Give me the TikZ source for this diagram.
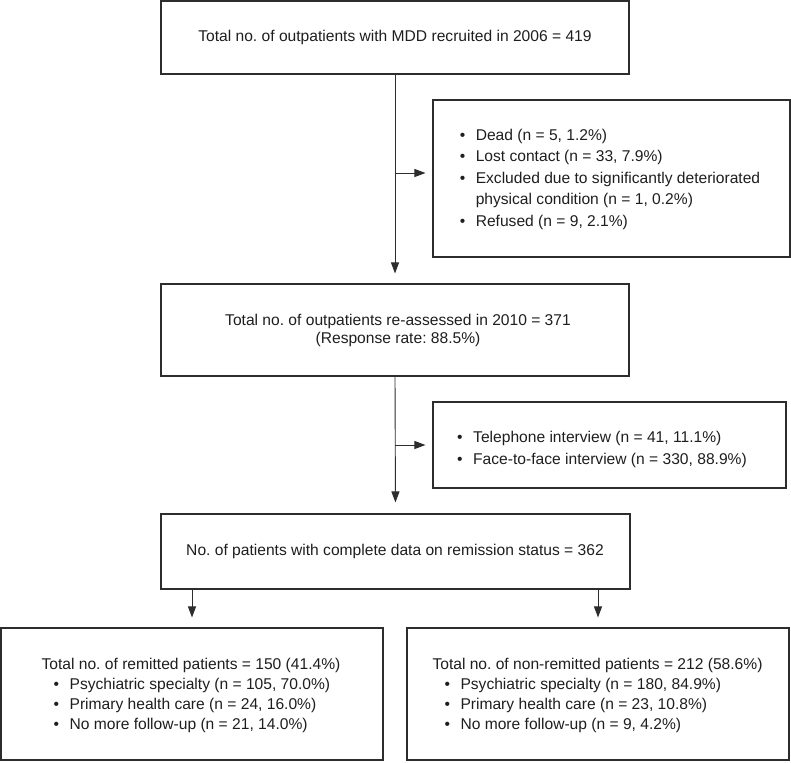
\documentclass[tikz,border=0pt]{standalone}
\usepackage{fontspec}
\setmainfont{Liberation Sans}
\usetikzlibrary{arrows.meta}
\definecolor{ink}{RGB}{30,30,30}
\definecolor{edge}{RGB}{45,45,45}
\newcommand{\bul}{\makebox[16pt][l]{\textbullet}}
\frenchspacing
\begin{document}
\begin{tikzpicture}[x=1pt,y=-1pt,
  box/.style={draw=edge, line width=1.1pt, inner sep=0pt},
  txt/.style={text=ink, inner sep=0pt, font=\fontsize{15.6}{#1}\selectfont, align=left},
  txt/.default={20},
  arr/.style={draw=edge, line width=0.9pt, -{Triangle[length=11pt,width=8pt]}}]
\useasboundingbox (0,0) rectangle (791,762);
% boxes
\node[box, minimum width=468pt, minimum height=73pt] (b1) at (395,37.5) {};
\node[box, minimum width=468pt, minimum height=92pt] (b2) at (395,330) {};
\node[box, minimum width=357pt, minimum height=157pt] (s1) at (611.5,178.5) {};
\node[box, minimum width=353pt, minimum height=86pt] (s2) at (609.5,445) {};
\node[box, minimum width=469pt, minimum height=75pt] (b3) at (395.5,551.5) {};
\node[box, minimum width=382pt, minimum height=132pt] (bl) at (192,694) {};
\node[box, minimum width=382pt, minimum height=132pt] (br) at (598,694) {};
% texts
\node[txt] (t1) at (395,37) {Total no. of outpatients with MDD recruited in 2006 = 419};
\node[txt={18}, align=center] (t2) at (398,330) {Total no. of outpatients re-assessed in 2010 = 371\\(Response rate: 88.5\%)};
\node[txt={21.5}] (ts1) at (610,179) {\begin{tabular}{@{}l@{}}
\bul Dead (n = 5, 1.2\%)\\
\bul Lost contact (n = 33, 7.9\%)\\
\bul Excluded due to significantly deteriorated\\
\hspace*{16pt}physical condition (n = 1, 0.2\%)\\
\bul Refused (n = 9, 2.1\%)
\end{tabular}};
\node[txt={22.5}] (ts2) at (602,449) {\begin{tabular}{@{}l@{}}
\bul Telephone interview (n = 41, 11.1\%)\\
\bul Face-to-face interview (n = 330, 88.9\%)
\end{tabular}};
\node[txt] (t3) at (395,551) {No. of patients with complete data on remission status = 362};
\node[txt] (tbl) at (191,695) {\begin{tabular}{@{}l@{}}
Total no. of remitted patients = 150 (41.4\%)\\
\hspace*{12pt}\bul Psychiatric specialty (n = 105, 70.0\%)\\
\hspace*{12pt}\bul Primary health care (n = 24, 16.0\%)\\
\hspace*{12pt}\bul No more follow-up (n = 21, 14.0\%)
\end{tabular}};
\node[txt] (tbr) at (597.5,695) {\begin{tabular}{@{}l@{}}
Total no. of non-remitted patients = 212 (58.6\%)\\
\hspace*{12pt}\bul Psychiatric specialty (n = 180, 84.9\%)\\
\hspace*{12pt}\bul Primary health care (n = 23, 10.8\%)\\
\hspace*{12pt}\bul No more follow-up (n = 9, 4.2\%)
\end{tabular}};
% connectors
\draw[arr, shorten >=10pt] (b1.south) -- (b2.north);
\coordinate (j1) at (395,173);
\draw[arr, shorten >=7pt] (j1) -- (j1 -| s1.west);
\draw[arr, shorten >=11pt] (b2.south) -- (b3.north);
\coordinate (j2) at (395,445);
\draw[arr, shorten >=7pt] (j2) -- (j2 -| s2.west);
\draw[arr, shorten >=10pt] (b3.south -| bl.north) -- (bl.north);
\draw[arr, shorten >=10pt] (b3.south -| br.north) -- (br.north);
\end{tikzpicture}
\end{document}
